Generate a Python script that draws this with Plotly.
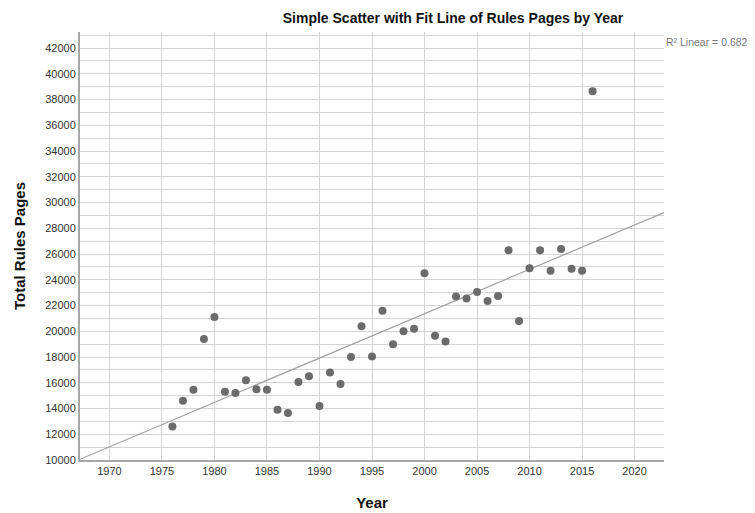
import numpy as np
import plotly.graph_objects as go

years = list(range(1976, 2017))
pages = [12600, 14600, 15450, 19400, 21100, 15300, 15200, 16200, 15500, 15450,
         13900, 13650, 16050, 16500, 14200, 16800, 15900, 18000, 20400, 18050,
         21600, 19000, 20000, 20200, 24500, 19650, 19200, 22700, 22550, 23050,
         22350, 22750, 26300, 20800, 24900, 26300, 24700, 26400, 24850, 24700,
         38650]
r2_label = "R² Linear = 0.682"
x_range = [1967.2, 2022.8]
y_range = [10000, 43250]

slope, intercept = np.polyfit(years, pages, 1)
fit_x = np.array(x_range)
fit_y = slope * fit_x + intercept

font = "Arial, 'Liberation Sans', sans-serif"
grid = "#d4d4d4"

W, H = 747, 505
fig = go.Figure()
fig.add_trace(go.Scatter(x=fit_x, y=fit_y, mode="lines",
                         line=dict(color="#a0a0a0", width=1.2),
                         hoverinfo="skip", showlegend=False))
fig.add_trace(go.Scatter(x=years, y=pages, mode="markers",
                         marker=dict(color="#6b6b6b", size=8),
                         showlegend=False, cliponaxis=False))

fig.update_layout(
    width=W, height=H,
    margin=dict(l=72, r=91, t=24, b=53, autoexpand=False),
    paper_bgcolor="white", plot_bgcolor="white",
    font=dict(family=font, size=11, color="#333333"),
    title=dict(text="<b>Simple Scatter with Fit Line of Rules Pages by Year</b>",
               x=445 / W, xanchor="center", y=1 - 10 / H, yanchor="middle",
               font=dict(size=14, color="#111111", family=font)),
    xaxis=dict(range=x_range, tickmode="linear", tick0=1970, dtick=5,
               showgrid=True, gridcolor=grid, gridwidth=1,
               showline=True, linecolor="#a8a8a8", linewidth=2,
               ticks="", zeroline=False, automargin=False,
               title=dict(text="<b>Year</b>", standoff=21,
                          font=dict(size=15, color="#111111", family=font))),
    yaxis=dict(range=y_range, tickmode="linear", tick0=10000, dtick=2000,
               tickformat="d",
               showgrid=True, gridcolor=grid, gridwidth=1,
               minor=dict(dtick=1000, showgrid=True, gridcolor=grid, gridwidth=1),
               showline=True, linecolor="#a8a8a8", linewidth=2,
               ticks="", zeroline=False, automargin=False,
               title=dict(text="<b>Total Rules Pages</b>", standoff=16,
                          font=dict(size=15, color="#111111", family=font))),
    annotations=[dict(text=r2_label, xref="paper", yref="paper",
                      x=(W - 5 - 72) / 584, y=(460 - 42) / 428,
                      xanchor="right", yanchor="middle", showarrow=False,
                      font=dict(size=10.5, color="#777777", family=font))],
)

fig.write_html("out.html")
